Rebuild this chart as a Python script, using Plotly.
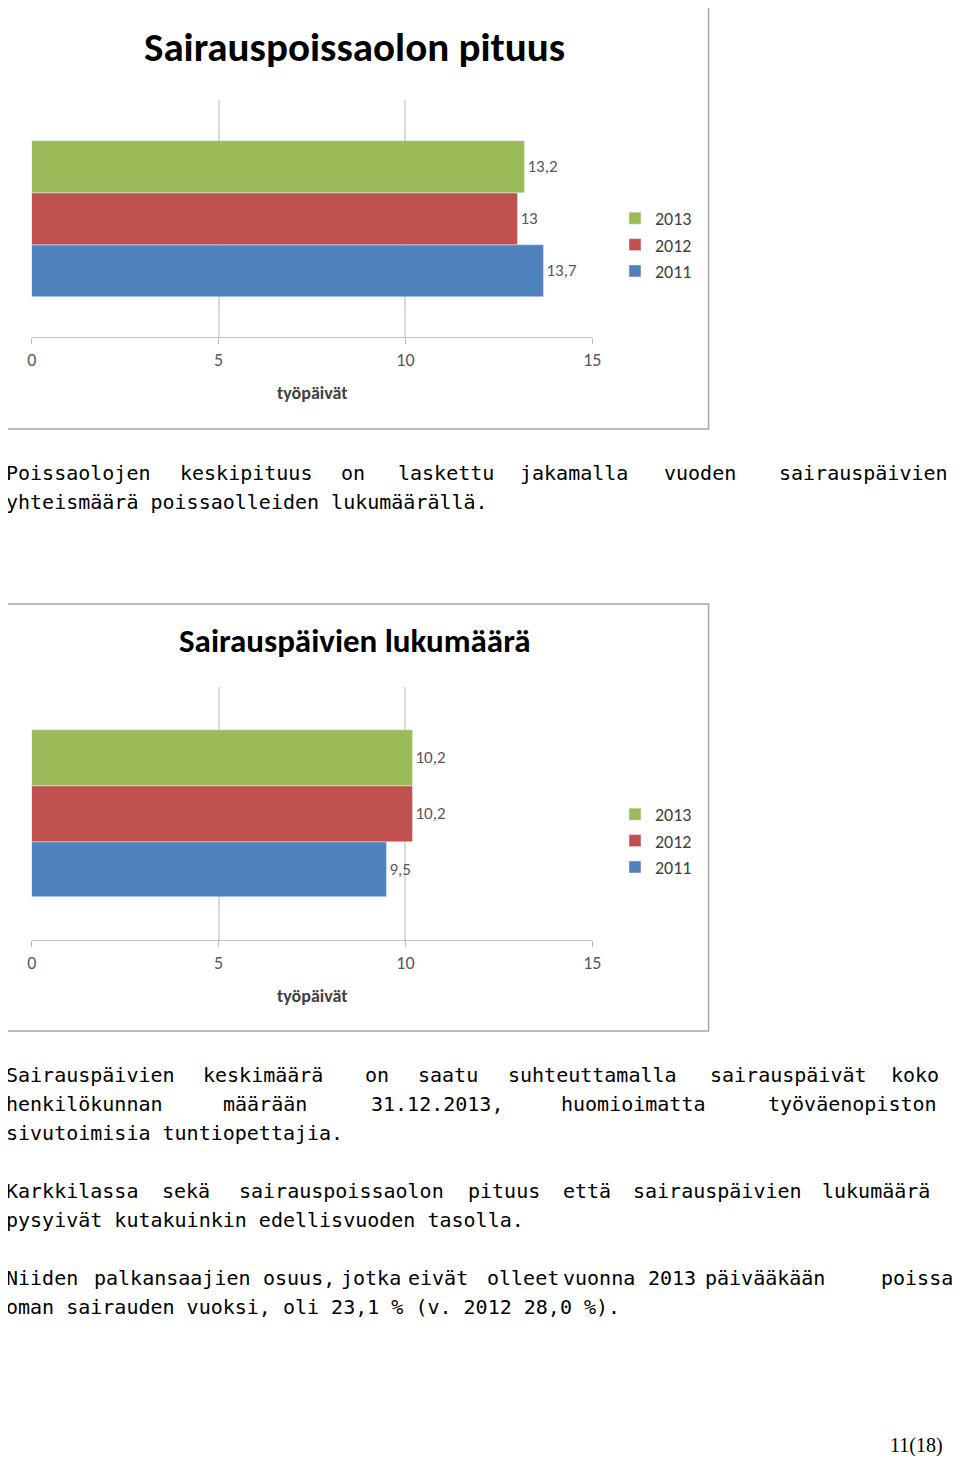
import plotly.graph_objects as go

years = ["2011", "2012", "2013"]
colors = ["#4F81BD", "#C0504D", "#9BBB59"]
pituus = [13.7, 13.0, 13.2]
lukumaara = [9.5, 10.2, 10.2]
labels1 = ["13,7", "13", "13,2"]
labels2 = ["9,5", "10,2", "10,2"]
xticks = [0, 5, 10, 15]

W, H = 950, 1448
DX, DY = 11, 8
def py(y): return 1 - (y - DY) / H
def px(x): return (x - DX) / W

fig = go.Figure()
lblfont = dict(size=17, color="#595959", family="Carlito, Liberation Sans")
for i in range(3):
    fig.add_trace(go.Bar(y=[i], x=[pituus[i]], orientation="h", width=1, name=years[i],
                         marker_color=colors[i], text=[labels1[i]], textposition="outside",
                         textfont=lblfont, xaxis="x", yaxis="y", legend="legend", cliponaxis=False))
for i in range(3):
    fig.add_trace(go.Bar(y=[i], x=[lukumaara[i]], orientation="h", width=1, name=years[i],
                         marker_color=colors[i], text=[labels2[i]], textposition="outside",
                         textfont=lblfont, xaxis="x2", yaxis="y2", legend="legend2", cliponaxis=False))

axx = dict(range=[0, 15], tickvals=xticks, showgrid=True, gridcolor="#D9D9D9", gridwidth=1.5,
           zeroline=False, showline=True, linecolor="#BFBFBF", ticks="outside", ticklen=6,
           tickcolor="#BFBFBF", tickfont=dict(size=18, color="#595959", family="Carlito, Liberation Sans"),
           fixedrange=True)
axy = dict(range=[-1.27, 3.28], showticklabels=False, showgrid=False, zeroline=False, fixedrange=True)
leg = dict(traceorder="reversed", bgcolor="rgba(0,0,0,0)", font=dict(size=18, color="#404040", family="Carlito, Liberation Sans"),
           itemwidth=30, tracegroupgap=4)
fig.update_layout(
    width=W, height=H, margin=dict(l=0, r=0, t=0, b=0),
    paper_bgcolor="white", plot_bgcolor="white", showlegend=True, bargap=0,
    xaxis=dict(axx, domain=[px(30), px(599)], anchor="y"),
    yaxis=dict(axy, domain=[py(337), py(100)], anchor="x"),
    xaxis2=dict(axx, domain=[px(30), px(599)], anchor="y2"),
    yaxis2=dict(axy, domain=[py(940), py(687)], anchor="x2"),
    legend=dict(leg, x=px(622), y=py(200), xanchor="left", yanchor="top"),
    legend2=dict(leg, x=px(622), y=py(796), xanchor="left", yanchor="top"),
)

shapes = [dict(type="rect", xref="paper", yref="paper", x0=px(2), x1=px(717), y0=py(429), y1=py(1),
               line=dict(color="#A6A6A6", width=1.5)),
          dict(type="rect", xref="paper", yref="paper", x0=px(2), x1=px(717), y0=py(1031), y1=py(604),
               line=dict(color="#A6A6A6", width=1.5))]
fig.update_layout(shapes=shapes)

ann = []
def A(text, x, y, size=20, xanchor="left", family="DejaVu Sans Mono", color="black", bold=False):
    if bold:
        text = "<b>" + text + "</b>"
    ann.append(dict(text=text, x=px(x), y=py(y), xref="paper", yref="paper", showarrow=False,
                    xanchor=xanchor, yanchor="middle", font=dict(size=size, family=family, color=color)))

A("Sairauspoissaolon pituus", 358, 47, size=41, xanchor="center", family="Carlito, Liberation Sans", bold=True)
A("työpäivät", 314, 393, size=18, xanchor="center", family="Carlito, Liberation Sans", color="#404040", bold=True)
A("Sairauspäivien lukumäärä", 358, 641, size=33, xanchor="center", family="Carlito, Liberation Sans", bold=True)
A("työpäivät", 314, 996, size=18, xanchor="center", family="Carlito, Liberation Sans", color="#404040", bold=True)

justified = [
    (473, [("Poissaolojen", 2), ("keskipituus", 178), ("on", 342), ("laskettu", 400), ("jakamalla", 524), ("vuoden", 670), ("sairauspäivien", 786)]),
    (1075, [("Sairauspäivien", 2), ("keskimäärä", 202), ("on", 366), ("saatu", 420), ("suhteuttamalla", 511), ("sairauspäivät", 716), ("koko", 900)]),
    (1104, [("henkilökunnan", 2), ("määrään", 222), ("31.12.2013,", 372), ("huomioimatta", 565), ("työväenopiston", 775)]),
    (1191, [("Karkkilassa", 2), ("sekä", 160), ("sairauspoissaolon", 238), ("pituus", 471), ("että", 567), ("sairauspäivien", 638), ("lukumäärä", 830)]),
    (1278, [("Niiden", 2), ("palkansaajien", 91), ("osuus,", 263), ("jotka", 342), ("eivät", 410), ("olleet", 490), ("vuonna", 567), ("2013", 653), ("päivääkään", 711), ("poissa", 890)]),
]
for y, words in justified:
    for w, x in words:
        A(w, x, y)
for y, t in [(502, "yhteismäärä poissaolleiden lukumäärällä."),
             (1133, "sivutoimisia tuntiopettajia."),
             (1220, "pysyivät kutakuinkin edellisvuoden tasolla."),
             (1307, "oman sairauden vuoksi, oli 23,1 % (v. 2012 28,0 %).")]:
    A(t, 2, y)
A("11(18)", 957, 1445, size=20, xanchor="right", family="Liberation Serif")
fig.update_layout(annotations=ann)

fig.write_html("out.html")
